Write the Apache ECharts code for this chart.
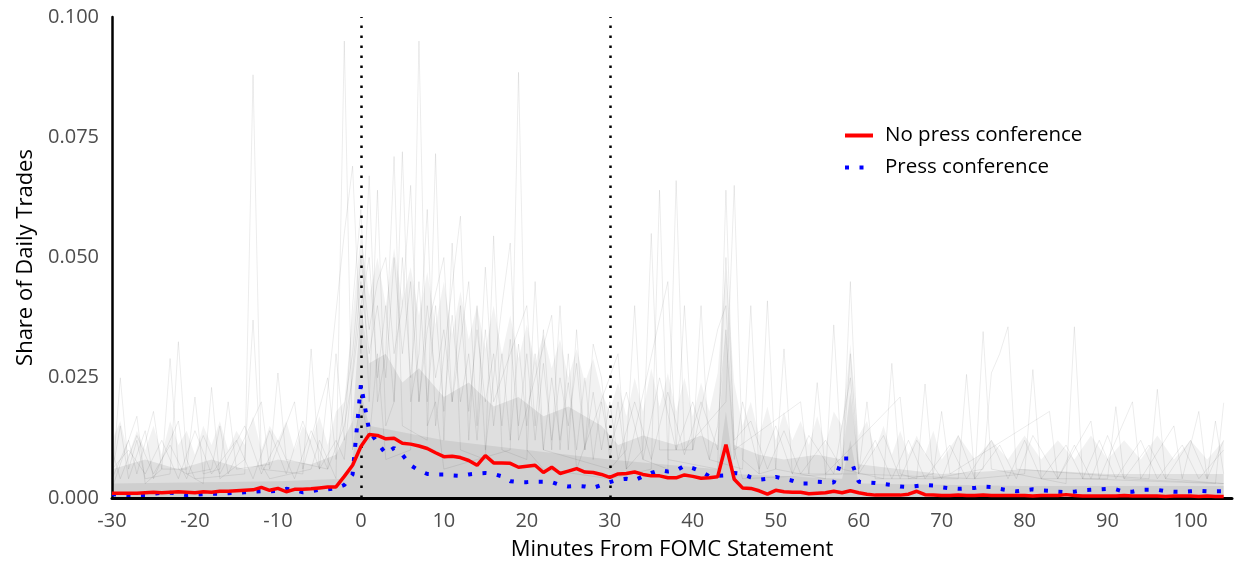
<!DOCTYPE html>
<html>
<head>
<meta charset="utf-8">
<script src="https://cdn.jsdelivr.net/npm/echarts@6/dist/echarts.min.js"></script>
<style>html,body{margin:0;padding:0;background:#fff}#c{width:1238px;height:566px}</style>
</head>
<body>
<div id="c"></div>
<script>
// ---- x domain: minutes from FOMC statement (-30 .. 104)
const minutes = [];
for (let m = -30; m <= 104; m++) minutes.push(m);

const xTicks = [-30, -20, -10, 0, 10, 20, 30, 40, 50, 60, 70, 80, 90, 100];
const yTicks = [0, 0.025, 0.05, 0.075, 0.1];
const eventLines = [0, 30];

// ---- average share, meetings without press conference
const noPress = [
  0.0010,0.0010,0.0010,0.0010,0.0011,0.0012,0.0011,0.0012,0.0013,0.0012,
  0.0011,0.0013,0.0012,0.0014,0.0014,0.0015,0.0016,0.0017,0.0022,0.0016,
  0.0020,0.0013,0.0018,0.0018,0.0019,0.0021,0.0023,0.0023,0.0045,0.0068,
  0.0107,0.0132,0.0130,0.0123,0.0124,0.0114,0.0112,0.0108,0.0103,0.0094,
  0.0086,0.0087,0.0084,0.0078,0.0068,0.0088,0.0073,0.0073,0.0072,0.0064,
  0.0066,0.0068,0.0053,0.0064,0.0051,0.0056,0.0061,0.0054,0.0053,0.0049,
  0.0043,0.0050,0.0051,0.0054,0.0049,0.0046,0.0046,0.0042,0.0042,0.0048,
  0.0045,0.0041,0.0042,0.0044,0.0111,0.0039,0.0021,0.0020,0.0015,0.0008,
  0.0016,0.0013,0.0012,0.0012,0.0009,0.0010,0.0011,0.0014,0.0011,0.0015,
  0.0011,0.0008,0.0006,0.0006,0.0006,0.0006,0.0008,0.0014,0.0007,0.0006,
  0.0005,0.0005,0.0006,0.0005,0.0005,0.0006,0.0005,0.0005,0.0005,0.0005,
  0.0005,0.0004,0.0005,0.0005,0.0005,0.0007,0.0005,0.0004,0.0004,0.0004,
  0.0004,0.0004,0.0005,0.0004,0.0004,0.0004,0.0004,0.0003,0.0004,0.0004,
  0.0004,0.0003,0.0004,0.0003,0.0003
];

// ---- average share, meetings with press conference
const withPress = [
  0.0008,0.0007,0.0006,0.0006,0.0006,0.0009,0.0011,0.0011,0.0009,0.0006,
  0.0007,0.0008,0.0009,0.0009,0.0010,0.0011,0.0012,0.0013,0.0014,0.0014,
  0.0015,0.0019,0.0017,0.0012,0.0014,0.0017,0.0018,0.0020,0.0027,0.0049,
  0.0236,0.0140,0.0115,0.0092,0.0104,0.0090,0.0068,0.0057,0.0050,0.0049,
  0.0049,0.0047,0.0046,0.0049,0.0051,0.0052,0.0050,0.0045,0.0035,0.0033,
  0.0033,0.0034,0.0034,0.0033,0.0027,0.0024,0.0025,0.0024,0.0021,0.0027,
  0.0033,0.0038,0.0040,0.0037,0.0045,0.0052,0.0058,0.0055,0.0057,0.0067,
  0.0062,0.0055,0.0045,0.0046,0.0047,0.0052,0.0050,0.0043,0.0038,0.0040,
  0.0044,0.0040,0.0036,0.0030,0.0030,0.0034,0.0033,0.0032,0.0082,0.0082,
  0.0034,0.0032,0.0031,0.0029,0.0027,0.0024,0.0023,0.0025,0.0027,0.0026,
  0.0022,0.0020,0.0019,0.0020,0.0021,0.0024,0.0023,0.0019,0.0016,0.0014,
  0.0016,0.0018,0.0016,0.0015,0.0013,0.0012,0.0013,0.0016,0.0017,0.0018,
  0.0019,0.0018,0.0013,0.0013,0.0017,0.0017,0.0017,0.0014,0.0013,0.0013,
  0.0014,0.0015,0.0014,0.0014,0.0014
];

// ---- density of individual meeting traces (upper edges of grey wash)
const hazeTop = [[-30,0.012],[-29,0.016],[-28,0.009],[-27,0.014],[-26,0.01],[-25,0.015],[-24,0.009],[-23,0.016],[-22,0.011],[-21,0.014],[-20,0.009],[-19,0.015],[-18,0.011],[-17,0.016],[-16,0.01],[-15,0.014],[-14,0.011],[-13,0.017],[-12,0.01],[-11,0.015],[-10,0.012],[-9,0.016],[-8,0.01],[-7,0.015],[-6,0.012],[-5,0.017],[-4,0.011],[-3,0.018],[-2,0.02],[-1,0.038],[0,0.055],[1,0.042],[2,0.05],[3,0.04],[4,0.052],[5,0.041],[6,0.048],[7,0.038],[8,0.047],[9,0.036],[10,0.045],[11,0.034],[12,0.043],[13,0.033],[14,0.04],[15,0.031],[16,0.04],[17,0.03],[18,0.038],[19,0.029],[20,0.036],[21,0.028],[22,0.034],[23,0.027],[24,0.033],[25,0.025],[26,0.031],[27,0.024],[28,0.029],[29,0.022],[30,0.018],[31,0.024],[32,0.017],[33,0.025],[34,0.018],[35,0.027],[36,0.019],[37,0.026],[38,0.018],[39,0.025],[40,0.017],[41,0.024],[42,0.018],[43,0.026],[44,0.048],[45,0.024],[46,0.015],[47,0.02],[48,0.013],[49,0.019],[50,0.012],[51,0.018],[52,0.012],[53,0.016],[54,0.011],[55,0.017],[56,0.011],[57,0.018],[58,0.015],[59,0.032],[60,0.013],[61,0.016],[62,0.01],[63,0.015],[64,0.009],[65,0.014],[66,0.009],[67,0.013],[68,0.009],[69,0.014],[70,0.008],[72,0.013],[74,0.008],[76,0.012],[78,0.008],[80,0.013],[82,0.008],[84,0.012],[86,0.008],[88,0.013],[90,0.008],[92,0.012],[94,0.008],[96,0.013],[98,0.008],[100,0.012],[102,0.008],[104,0.012]];
const coreTop = [[-30,0.006],[-26,0.008],[-22,0.006],[-18,0.008],[-14,0.006],[-10,0.008],[-6,0.007],[-3,0.009],[-1,0.016],[0,0.04],[1,0.028],[3,0.03],[5,0.024],[7,0.027],[10,0.021],[13,0.024],[16,0.019],[19,0.021],[22,0.017],[25,0.019],[29,0.015],[31,0.011],[34,0.013],[38,0.011],[41,0.013],[43,0.011],[44,0.035],[45,0.011],[48,0.009],[51,0.008],[55,0.009],[58,0.008],[59,0.022],[60,0.007],[65,0.006],[70,0.005],[80,0.006],[90,0.005],[104,0.005]];
const darkTop = [[-30,0.003],[-10,0.0035],[-2,0.004],[-1,0.008],[0,0.022],[1,0.015],[10,0.012],[20,0.01],[30,0.008],[43,0.006],[44,0.018],[45,0.005],[58,0.004],[59,0.012],[60,0.003],[80,0.0025],[104,0.0025]];

// ---- individual light traces read from the most visible spikes
const grey1 = [[-30,0.003],[-29,0.025],[-28,0.006],[-27,0.012],[-26,0.004],[-23,0.005],[-22,0.0325],[-21,0.008],[-20,0.004],[-14,0.005],[-13,0.088],[-12,0.007],[-11,0.004],[-6,0.006],[-5,0.012],[-3,0.004],[-2,0.095],[-1,0.01],[0,0.02],[1,0.012],[2,0.03],[3,0.008],[6,0.01],[7,0.095],[8,0.015],[9,0.02],[10,0.006],[18,0.01],[19,0.0885],[20,0.01],[22,0.006],[30,0.004],[35,0.006],[36,0.064],[37,0.008],[43,0.006],[44,0.064],[45,0.01],[46,0.004],[58,0.005],[59,0.045],[60,0.005],[74,0.004],[75,0.0346],[76,0.006],[85,0.003],[86,0.0356],[87,0.004],[103,0.003],[104,0.0198]];
const grey2 = [[-30,0.002],[-27,0.017],[-26,0.003],[-24,0.006],[-23,0.029],[-22,0.006],[-19,0.003],[-18,0.023],[-17,0.004],[-14,0.008],[-13,0.037],[-12,0.006],[-7,0.005],[-6,0.031],[-5,0.006],[-2,0.055],[-1,0.069],[0,0.03],[1,0.067],[2,0.02],[3,0.03],[4,0.071],[5,0.015],[8,0.012],[9,0.0716],[10,0.012],[11,0.053],[12,0.01],[15,0.008],[16,0.0545],[17,0.01],[20,0.008],[21,0.045],[22,0.01],[30,0.006],[32,0.01],[33,0.04],[34,0.008],[37,0.006],[38,0.066],[39,0.01],[44,0.02],[45,0.065],[46,0.008],[48,0.005],[49,0.041],[50,0.006],[56,0.004],[57,0.036],[58,0.006],[63,0.004],[64,0.028],[65,0.005],[67,0.004],[68,0.0237],[69,0.004],[75,0.006],[76,0.026],[77,0.030],[78,0.0356],[79,0.006],[95,0.004],[96,0.0226],[97,0.004],[104,0.003]];
const grey3 = [[-30,0.004],[-28,0.012],[-27,0.005],[-25,0.018],[-24,0.006],[-21,0.006],[-20,0.021],[-19,0.005],[-17,0.006],[-16,0.02],[-15,0.006],[-11,0.007],[-10,0.026],[-9,0.008],[-4,0.006],[-3,0.03],[-2,0.012],[-1,0.04],[0,0.06],[1,0.02],[2,0.064],[3,0.015],[4,0.02],[5,0.072],[6,0.02],[7,0.03],[8,0.06],[9,0.015],[12,0.0586],[13,0.012],[14,0.04],[15,0.01],[17,0.04],[18,0.053],[19,0.012],[23,0.038],[24,0.01],[25,0.03],[26,0.006],[31,0.03],[32,0.006],[34,0.01],[35,0.055],[36,0.01],[40,0.01],[41,0.04],[42,0.008],[46,0.006],[47,0.04],[48,0.005],[50,0.006],[51,0.031],[52,0.005],[60,0.005],[61,0.02],[62,0.004],[72,0.004],[73,0.0257],[74,0.004],[80,0.005],[81,0.0267],[82,0.004],[90,0.004],[91,0.019],[92,0.004],[104,0.003]];
const grey4 = [[-30,0.005],[-29,0.015],[-28,0.004],[-26,0.014],[-25,0.004],[-22,0.016],[-21,0.005],[-18,0.006],[-17,0.015],[-16,0.005],[-12,0.02],[-11,0.006],[-8,0.02],[-7,0.006],[-4,0.025],[-3,0.008],[-1,0.03],[0,0.05],[1,0.035],[2,0.045],[3,0.05],[4,0.03],[5,0.04],[6,0.065],[7,0.02],[8,0.035],[10,0.05],[11,0.02],[13,0.045],[14,0.015],[15,0.048],[16,0.02],[20,0.04],[21,0.015],[22,0.035],[23,0.01],[24,0.04],[25,0.01],[26,0.035],[27,0.01],[28,0.032],[29,0.025],[30,0.008],[31,0.02],[32,0.006],[37,0.045],[38,0.01],[39,0.04],[40,0.01],[43,0.035],[44,0.04],[45,0.01],[53,0.02],[54,0.005],[55,0.024],[56,0.005],[65,0.021],[66,0.004],[69,0.005],[70,0.018],[71,0.005],[83,0.018],[84,0.004],[88,0.016],[89,0.004],[93,0.02],[94,0.004],[98,0.015],[99,0.004],[101,0.018],[102,0.004],[103,0.016],[104,0.005]];
const grey5 = [[-30,0.006],[-28,0.01],[-26,0.005],[-24,0.012],[-22,0.004],[-20,0.014],[-18,0.005],[-15,0.012],[-13,0.004],[-11,0.014],[-9,0.005],[-7,0.016],[-5,0.006],[-3,0.012],[-2,0.008],[0,0.045],[1,0.03],[2,0.04],[3,0.025],[4,0.05],[5,0.03],[6,0.045],[7,0.02],[8,0.04],[9,0.025],[10,0.035],[11,0.02],[12,0.04],[13,0.018],[14,0.035],[15,0.02],[16,0.03],[17,0.015],[18,0.033],[19,0.015],[20,0.03],[21,0.012],[22,0.028],[23,0.012],[24,0.025],[25,0.015],[26,0.028],[27,0.01],[28,0.022],[29,0.01],[30,0.02],[31,0.008],[33,0.02],[35,0.008],[37,0.022],[39,0.009],[41,0.02],[43,0.01],[44,0.05],[45,0.012],[47,0.016],[49,0.006],[51,0.014],[53,0.005],[56,0.012],[58,0.006],[59,0.03],[60,0.006],[62,0.012],[64,0.004],[66,0.012],[68,0.004],[71,0.011],[73,0.004],[76,0.012],[78,0.004],[80,0.012],[82,0.004],[85,0.011],[87,0.004],[89,0.012],[91,0.004],[94,0.012],[96,0.004],[99,0.011],[101,0.004],[104,0.01]];
const grey6 = [[-30,0.01],[-29,0.004],[-27,0.013],[-25,0.005],[-23,0.011],[-21,0.004],[-19,0.013],[-17,0.005],[-14,0.015],[-12,0.005],[-10,0.012],[-8,0.004],[-6,0.014],[-4,0.006],[-2,0.015],[-1,0.025],[0,0.04],[1,0.05],[2,0.025],[3,0.04],[4,0.02],[5,0.05],[6,0.025],[7,0.045],[8,0.02],[9,0.04],[10,0.018],[11,0.038],[12,0.02],[13,0.03],[14,0.012],[15,0.035],[16,0.015],[17,0.03],[18,0.012],[19,0.032],[20,0.015],[21,0.03],[22,0.01],[23,0.025],[24,0.012],[25,0.024],[26,0.01],[27,0.025],[28,0.008],[29,0.02],[30,0.01],[32,0.022],[34,0.008],[36,0.025],[38,0.01],[40,0.02],[42,0.008],[43,0.015],[44,0.035],[45,0.008],[46,0.02],[48,0.006],[50,0.015],[52,0.005],[54,0.013],[57,0.005],[59,0.025],[60,0.005],[63,0.013],[65,0.004],[67,0.012],[70,0.004],[72,0.013],[74,0.004],[77,0.011],[79,0.004],[81,0.013],[84,0.004],[86,0.011],[88,0.004],[90,0.013],[92,0.004],[95,0.011],[97,0.004],[100,0.012],[102,0.004],[104,0.012]];

const greyTraces = [grey1, grey2, grey3, grey4, grey5, grey6];
const bands = [
  {data: hazeTop, color: 'rgba(0,0,0,0.07)'},
  {data: coreTop, color: 'rgba(0,0,0,0.11)'},
  {data: darkTop, color: 'rgba(0,0,0,0.10)'}
];

const FONT = '"Open Sans", "Noto Sans", sans-serif';
const pair = (vals) => minutes.map((m, i) => [m, vals[i]]);

const series = [];
bands.forEach(b => series.push({
  type: 'line', data: b.data, symbol: 'none', silent: true,
  lineStyle: {width: 0, color: 'rgba(0,0,0,0)'},
  areaStyle: {color: b.color, origin: 'start'}, z: 1
}));
greyTraces.forEach(t => series.push({
  type: 'line', data: t, symbol: 'none', silent: true,
  lineStyle: {width: 1, color: 'rgba(0,0,0,0.075)'}, z: 2
}));
series.push({
  type: 'line', data: [], symbol: 'none', silent: true, z: 3,
  markLine: {
    silent: true, symbol: ['none', 'none'], label: {show: false},
    lineStyle: {color: '#000', width: 2.5, type: [2.5, 7.5]},
    data: eventLines.map(x => ({xAxis: x}))
  }
});
series.push({
  name: 'Press conference', type: 'line', data: pair(withPress), symbol: 'none', z: 5,
  itemStyle: {color: '#0000ff'},
  lineStyle: {width: 4, color: '#0000ff', type: [4, 10.5], cap: 'butt'}
});
series.push({
  name: 'No press conference', type: 'line', data: pair(noPress), symbol: 'none', z: 6,
  itemStyle: {color: '#ff0000'},
  lineStyle: {width: 3.5, color: '#ff0000'}
});

const chart = echarts.init(document.getElementById('c'), null, {renderer: 'canvas'});
chart.setOption({
  animation: false,
  backgroundColor: '#ffffff',
  textStyle: {fontFamily: FONT},
  grid: {left: 112, right: 6, top: 17, bottom: 63, containLabel: false},
  legend: {
    data: ['No press conference', 'Press conference'],
    orient: 'vertical', left: 838, top: 120, itemGap: 11,
    itemWidth: 28, itemHeight: 20,
    itemStyle: {opacity: 0},
    lineStyle: {width: 4},
    textStyle: {fontSize: 20.5, color: '#000', fontFamily: FONT, padding: [0, 0, 0, 7]}
  },
  xAxis: {
    type: 'value', min: xTicks[0], max: 105, interval: 10,
    name: 'Minutes From FOMC Statement', nameLocation: 'middle', nameGap: 41,
    nameTextStyle: {fontSize: 22, color: '#000', fontFamily: FONT},
    axisLine: {show: true, onZero: false, lineStyle: {color: '#000', width: 3}},
    axisTick: {show: false}, splitLine: {show: false},
    axisLabel: {fontSize: 20, color: '#4d4d4d', margin: 13, showMaxLabel: false, fontFamily: FONT,
      formatter: v => xTicks.includes(v) ? String(v) : ''}
  },
  yAxis: {
    type: 'value', min: yTicks[0], max: yTicks[yTicks.length - 1], interval: 0.025,
    name: 'Share of Daily Trades', nameLocation: 'middle', nameGap: 75,
    nameTextStyle: {fontSize: 22, color: '#000', fontFamily: FONT},
    axisLine: {show: true, onZero: false, lineStyle: {color: '#000', width: 2.5}},
    axisTick: {show: false}, splitLine: {show: false},
    axisLabel: {fontSize: 20, color: '#4d4d4d', margin: 13, fontFamily: FONT,
      formatter: v => v.toFixed(3)}
  },
  series: series
});
</script>
</body>
</html>
